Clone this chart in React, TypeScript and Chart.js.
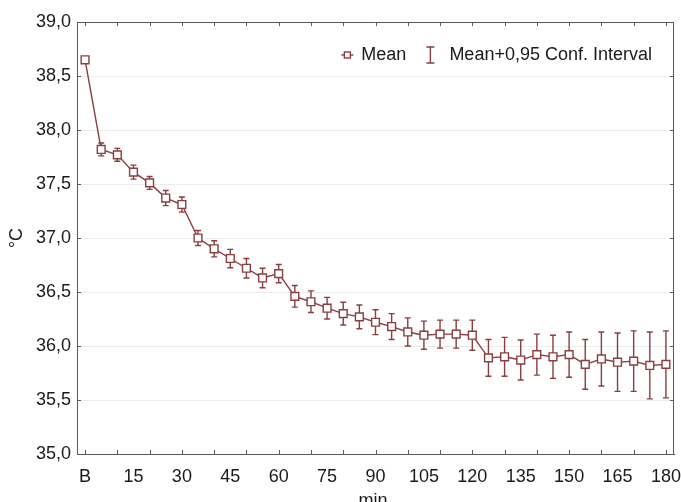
import React, { useEffect, useRef } from 'react';
import { Chart, registerables } from 'chart.js';

Chart.register(...registerables);

const categories = ['B', '5', '10', '15', '20', '25', '30', '35', '40', '45', '50', '55', '60', '65', '70', '75', '80', '85', '90', '95', '100', '105', '110', '115', '120', '125', '130', '135', '140', '145', '150', '155', '160', '165', '170', '175', '180'];

const meanTemp = [38.65, 37.82, 37.77, 37.61, 37.51, 37.37, 37.31, 37.0, 36.9, 36.81, 36.72, 36.63, 36.67, 36.46, 36.41, 36.35, 36.3, 36.27, 36.22, 36.18, 36.13, 36.1, 36.11, 36.11, 36.1, 35.89, 35.9, 35.87, 35.92, 35.9, 35.92, 35.83, 35.88, 35.85, 35.86, 35.82, 35.83];

const ciHalf = [0.02, 0.06, 0.06, 0.065, 0.06, 0.07, 0.07, 0.07, 0.075, 0.085, 0.09, 0.09, 0.085, 0.1, 0.1, 0.1, 0.105, 0.11, 0.115, 0.12, 0.13, 0.13, 0.13, 0.13, 0.14, 0.17, 0.18, 0.185, 0.19, 0.2, 0.21, 0.23, 0.25, 0.27, 0.28, 0.31, 0.31];

const legendLabels = ['Mean', 'Mean+0,95 Conf. Interval'];
const yTitle = '°C';
const xTitle = 'min.';

const SERIES = '#8B3E3E';
const FRAME = '#5a5a5a';
const TEXT = '#1a1a1a';
const FONT = "'Liberation Sans', Arial, sans-serif";

const errorBarPlugin = {
  id: 'errorBars',
  beforeDatasetsDraw(chart: any) {
    const { ctx, scales } = chart;
    const x = scales.x;
    const y = scales.y;
    ctx.save();
    ctx.strokeStyle = SERIES;
    ctx.lineWidth = 1.4;
    meanTemp.forEach((m, i) => {
      const px = x.getPixelForValue(i);
      const top = y.getPixelForValue(m + ciHalf[i]);
      const bot = y.getPixelForValue(m - ciHalf[i]);
      ctx.beginPath();
      ctx.moveTo(px, top);
      ctx.lineTo(px, bot);
      ctx.moveTo(px - 3, top);
      ctx.lineTo(px + 3, top);
      ctx.moveTo(px - 3, bot);
      ctx.lineTo(px + 3, bot);
      ctx.stroke();
    });
    ctx.restore();
  },
};

const framePlugin = {
  id: 'frame',
  afterDraw(chart: any) {
    const { ctx, chartArea, scales } = chart;
    const { left, right, top, bottom } = chartArea;
    const x = scales.x;
    const y = scales.y;
    ctx.save();
    ctx.strokeStyle = FRAME;
    ctx.lineWidth = 1;
    ctx.beginPath();
    ctx.moveTo(left, top + 0.5);
    ctx.lineTo(right, top + 0.5);
    ctx.moveTo(right - 0.5, top);
    ctx.lineTo(right - 0.5, bottom);
    for (let i = 0; i < categories.length; i += 2) {
      const px = Math.round(x.getPixelForValue(i)) + 0.5;
      ctx.moveTo(px, bottom);
      ctx.lineTo(px, bottom - 4);
      ctx.moveTo(px, top);
      ctx.lineTo(px, top + 4);
    }
    y.ticks.forEach((t: any) => {
      const py = Math.round(y.getPixelForValue(t.value)) + 0.5;
      ctx.moveTo(left, py);
      ctx.lineTo(left + 4, py);
      ctx.moveTo(right, py);
      ctx.lineTo(right - 4, py);
    });
    ctx.stroke();

    // legend
    ctx.font = `18px ${FONT}`;
    ctx.fillStyle = TEXT;
    ctx.textBaseline = 'middle';
    ctx.textAlign = 'left';
    const ly = top + 33;
    const w2 = ctx.measureText(legendLabels[1]).width;
    const text2X = right - 22 - w2;
    const beamX = text2X - 19;
    const w1 = ctx.measureText(legendLabels[0]).width;
    const text1X = beamX - 24 - w1;
    const markX = text1X - 14;
    ctx.fillText(legendLabels[0], text1X, ly);
    ctx.fillText(legendLabels[1], text2X, ly);
    ctx.strokeStyle = SERIES;
    ctx.lineWidth = 1.4;
    ctx.beginPath();
    ctx.moveTo(markX - 6, ly);
    ctx.lineTo(markX + 6, ly);
    ctx.stroke();
    ctx.fillStyle = '#ffffff';
    ctx.fillRect(markX - 3, ly - 3, 6, 6);
    ctx.strokeRect(markX - 3, ly - 3, 6, 6);
    ctx.beginPath();
    ctx.moveTo(beamX, ly - 8);
    ctx.lineTo(beamX, ly + 8);
    ctx.moveTo(beamX - 4, ly - 8);
    ctx.lineTo(beamX + 4, ly - 8);
    ctx.moveTo(beamX - 4, ly + 8);
    ctx.lineTo(beamX + 4, ly + 8);
    ctx.stroke();
    ctx.restore();
  },
};

export default function App() {
  const ref = useRef<HTMLCanvasElement | null>(null);

  useEffect(() => {
    if (!ref.current) return;
    const chart = new Chart(ref.current, {
      type: 'line',
      data: {
        labels: categories,
        datasets: [
          {
            label: legendLabels[0],
            data: meanTemp,
            borderColor: SERIES,
            borderWidth: 1.4,
            pointStyle: 'rect',
            pointRadius: 5.5,
            pointBorderWidth: 1.4,
            pointBorderColor: SERIES,
            pointBackgroundColor: '#ffffff',
            tension: 0,
          },
        ],
      },
      options: {
        responsive: false,
        animation: false,
        devicePixelRatio: 1,
        layout: { padding: { top: 22, right: 7, left: 0, bottom: 0 } },
        plugins: {
          legend: { display: false },
          tooltip: { enabled: false },
        },
        scales: {
          x: {
            type: 'category',
            offset: true,
            grid: { display: false, drawTicks: false },
            border: { display: true, color: FRAME, width: 1 },
            ticks: {
              autoSkip: false,
              maxRotation: 0,
              padding: 12,
              color: TEXT,
              font: { family: FONT, size: 18 },
              callback: (_v: any, i: number) => (i % 3 === 0 ? categories[i] : ''),
            },
            title: {
              display: true,
              text: xTitle,
              color: TEXT,
              font: { family: FONT, size: 18, lineHeight: 1.2 },
              padding: { top: 0, bottom: -10 },
            },
            afterFit: (s: any) => {
              s.height = 48;
              s.paddingLeft = 0;
              s.paddingRight = 0;
            },
          },
          y: {
            min: 35,
            max: 39,
            ticks: {
              stepSize: 0.5,
              padding: 6,
              color: TEXT,
              font: { family: FONT, size: 18 },
              callback: (v: any) => Number(v).toFixed(1).replace('.', ','),
            },
            grid: { color: '#ececec', drawTicks: false, lineWidth: 1 },
            border: { display: true, color: FRAME, width: 1 },
            title: {
              display: true,
              text: yTitle,
              color: TEXT,
              font: { family: FONT, size: 18, lineHeight: 1.2 },
              padding: { top: 6, bottom: 0 },
            },
            afterFit: (s: any) => {
              s.width = 77;
              s.paddingTop = 0;
              s.paddingBottom = 0;
            },
          },
        },
      },
      plugins: [errorBarPlugin, framePlugin],
    } as any);
    return () => chart.destroy();
  }, []);

  return (
    <div style={{ position: 'fixed', left: 0, top: 0, width: 681, height: 502, background: '#ffffff' }}>
      <canvas ref={ref} width={681} height={502} style={{ display: 'block', width: 681, height: 502 }} />
    </div>
  );
}
